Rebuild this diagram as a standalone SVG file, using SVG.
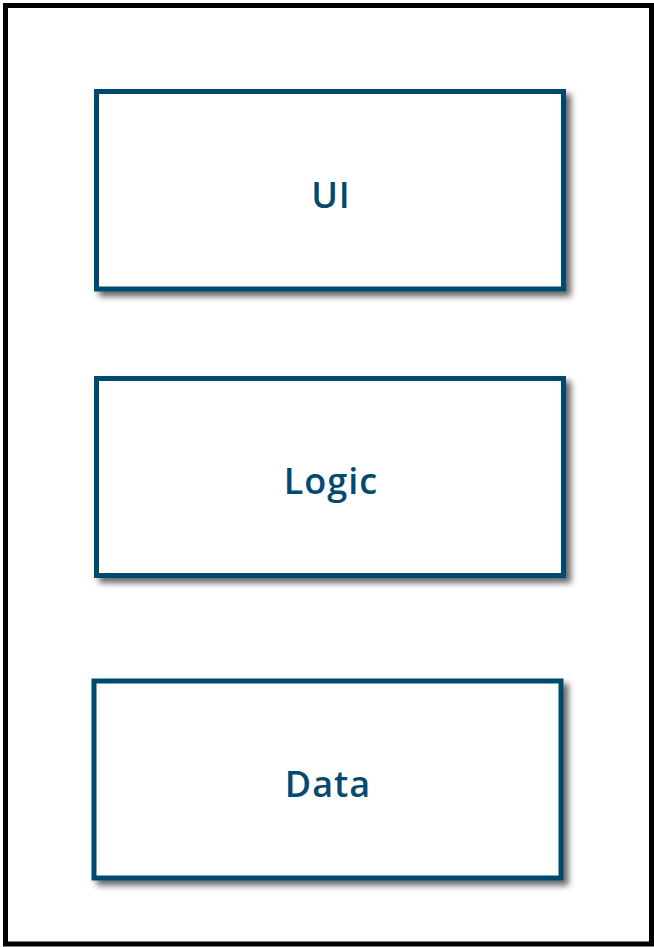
<svg xmlns="http://www.w3.org/2000/svg" width="654" height="947" viewBox="0 0 654 947">
<defs>
<style>
.box{fill:#fff;stroke:#054a6e;stroke-width:5;filter:url(#sh)}
.lbl{font-family:"Open Sans","Liberation Sans",sans-serif;font-weight:600;font-size:36px;letter-spacing:1px;fill:#054a6e;text-anchor:middle}
</style>
<filter id="sh" x="-10%" y="-10%" width="125%" height="130%">
<feGaussianBlur in="SourceAlpha" stdDeviation="3"/>
<feOffset dx="5" dy="5" result="b"/>
<feComponentTransfer><feFuncA type="linear" slope="0.6"/></feComponentTransfer>
<feMerge><feMergeNode/><feMergeNode in="SourceGraphic"/></feMerge>
</filter>
</defs>
<rect width="654" height="947" fill="#fff"/>
<rect x="5.5" y="5.5" width="646" height="938.5" fill="none" stroke="#000" stroke-width="5"/>
<g id="connectors"></g>
<g id="ui">
<rect class="box" x="96.5" y="91.5" width="467" height="197.5"/>
<text class="lbl" x="331" y="208">UI</text>
</g>
<g id="logic">
<rect class="box" x="96.5" y="378.5" width="467" height="197"/>
<text class="lbl" x="331" y="494">Logic</text>
</g>
<g id="data">
<rect class="box" x="94" y="681" width="467" height="197"/>
<text class="lbl" x="328" y="797">Data</text>
</g>
</svg>
